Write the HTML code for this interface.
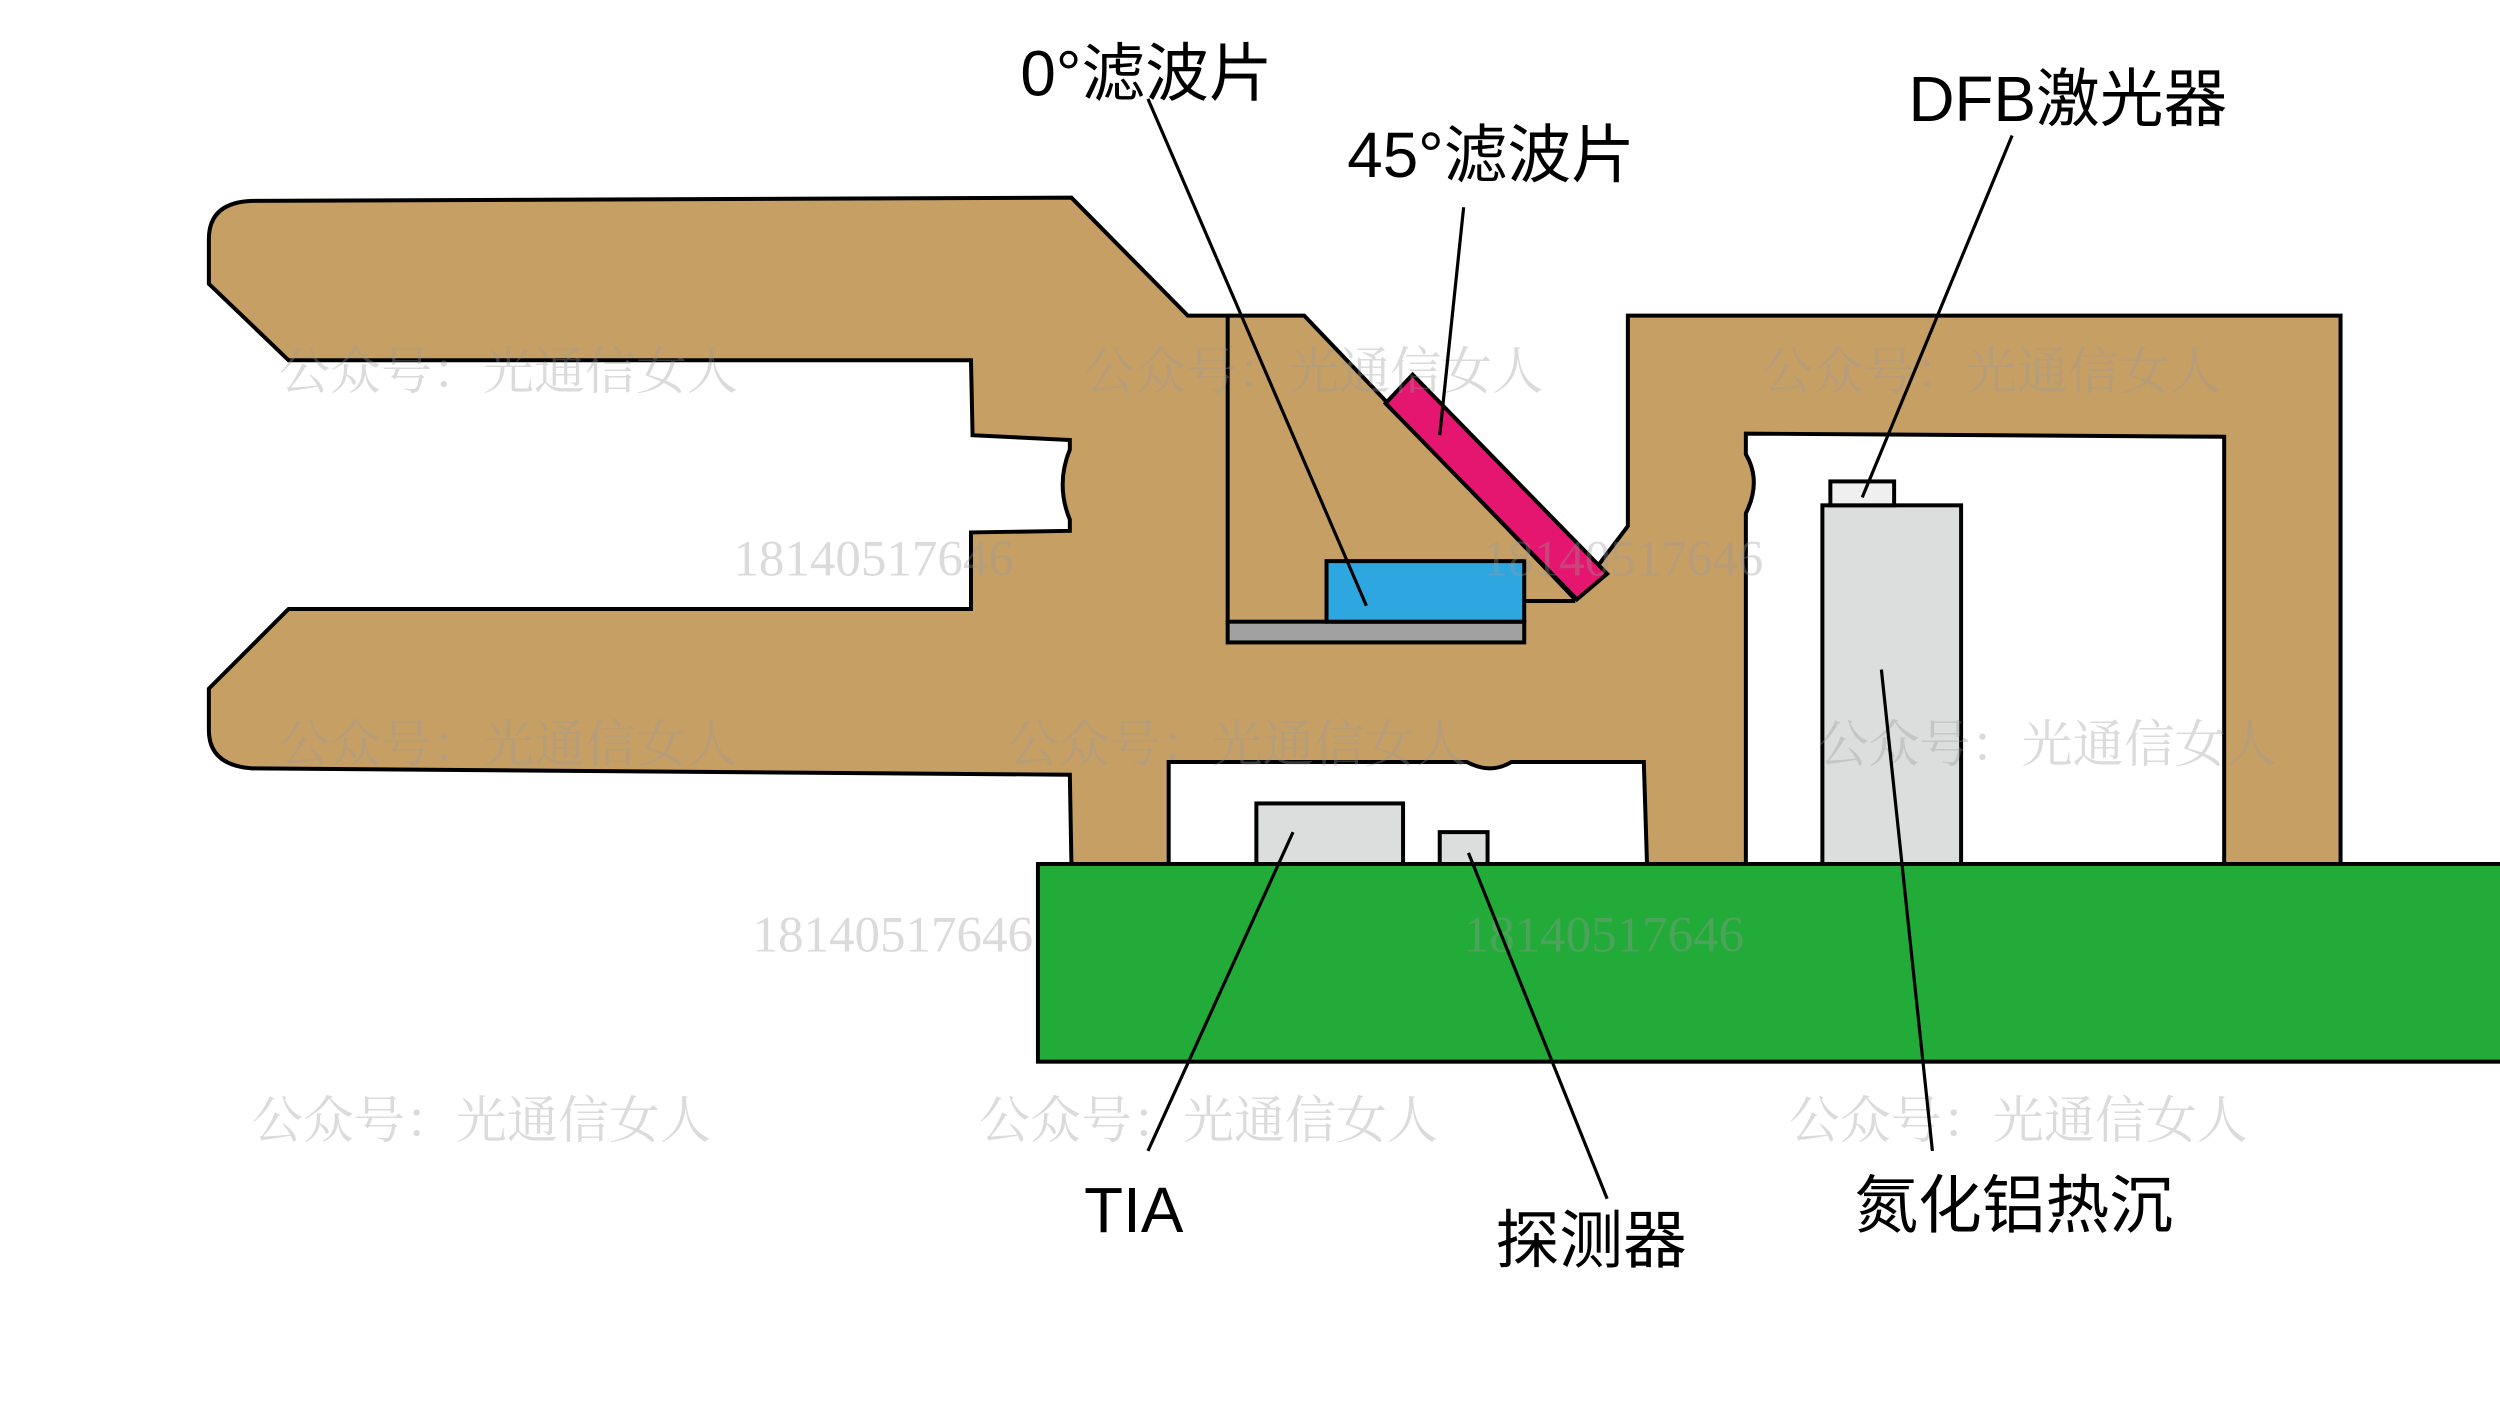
<!DOCTYPE html>
<html><head><meta charset="utf-8"><style>
html,body{margin:0;padding:0;background:#fff;}
svg{display:block;}
.lbl{font-family:"Liberation Sans","Noto Sans CJK SC",sans-serif;font-size:40px;fill:#000;}
.wm{font-family:"Liberation Serif","Noto Serif CJK SC",serif;font-size:32px;fill:#999;opacity:0.35;}
</style></head><body>
<svg width="2500" height="1406" viewBox="0 0 1568 882" preserveAspectRatio="none" xmlns="http://www.w3.org/2000/svg">
<rect width="1568" height="882" fill="#fff"/>
<rect x="651" y="542" width="930" height="124" fill="#22ab38" stroke="#000" stroke-width="2.5"/>
<path d="M158,126 L672,124 L745,198 L818,198 L987,375 L1021,330 L1021,198 L1468,198 L1468,542 L1395,542 L1395,274 L1095,272 L1095,285 Q1105,302 1095,322 L1095,542 L1033,542 L1031,478 L948,478 Q935,486 920,478 L733,478 L733,542 L672,542 L671,486 L158,482 Q131,480 131,458 L131,432 L181,382 L609,382 L609,334 L671,333 L671,326 Q662,304 671,282 L671,276 L610,273 L609,226 L181,226 L131,178 L131,150 Q131,127 158,126 Z" fill="#c69f65" stroke="#000" stroke-width="2.5" stroke-linejoin="miter"/>
<line x1="770" y1="198" x2="770" y2="392" stroke="#000" stroke-width="2.5"/>
<line x1="956" y1="377" x2="988" y2="377" stroke="#000" stroke-width="2.5"/>
<rect x="770" y="390" width="186" height="13" fill="#a0a1a0" stroke="#000" stroke-width="2.5"/>
<rect x="832" y="352" width="124" height="38" fill="#2ea7e0" stroke="#000" stroke-width="2.5"/>
<polygon points="869,253 886,235 1008,360 989,376" fill="#e4166f" stroke="#000" stroke-width="2.5"/>
<rect x="788" y="504" width="92" height="38" fill="#dcdddd" stroke="#000" stroke-width="2.5"/>
<rect x="903" y="522" width="30" height="20" fill="#dcdddd" stroke="#000" stroke-width="2.5"/>
<rect x="1143" y="317" width="87" height="225" fill="#dcdddd" stroke="#000" stroke-width="2.5"/>
<rect x="1148" y="302" width="40" height="15" fill="#efefef" stroke="#000" stroke-width="2.5"/>
<g class="wm">
<text x="175" y="244">公众号：光通信女人</text>
<text x="680" y="244">公众号：光通信女人</text>
<text x="1105" y="244">公众号：光通信女人</text>
<text x="460" y="361">18140517646</text>
<text x="930" y="361">18140517646</text>
<text x="175" y="478">公众号：光通信女人</text>
<text x="632" y="478">公众号：光通信女人</text>
<text x="1140" y="478">公众号：光通信女人</text>
<text x="472" y="597">18140517646</text>
<text x="918" y="597">18140517646</text>
<text x="158" y="714">公众号：光通信女人</text>
<text x="614" y="714">公众号：光通信女人</text>
<text x="1122" y="714">公众号：光通信女人</text>
</g>
<g stroke="#000" stroke-width="2">
<line x1="720" y1="62" x2="857" y2="380"/>
<line x1="918" y1="130" x2="903" y2="273"/>
<line x1="1262" y1="85" x2="1168" y2="312"/>
<line x1="720" y1="722" x2="811" y2="522"/>
<line x1="1008" y1="752" x2="921" y2="535"/>
<line x1="1212" y1="722" x2="1180" y2="420"/>
</g>
<text class="lbl" x="640" y="60">0°滤波片</text>
<text class="lbl" x="845" y="111">45°滤波片</text>
<text class="lbl" x="1197" y="76">DFB激光器</text>
<text class="lbl" x="680" y="773">TIA</text>
<text class="lbl" x="938" y="792">探测器</text>
<text class="lbl" x="1163" y="770">氮化铝热沉</text>
</svg>
</body></html>
